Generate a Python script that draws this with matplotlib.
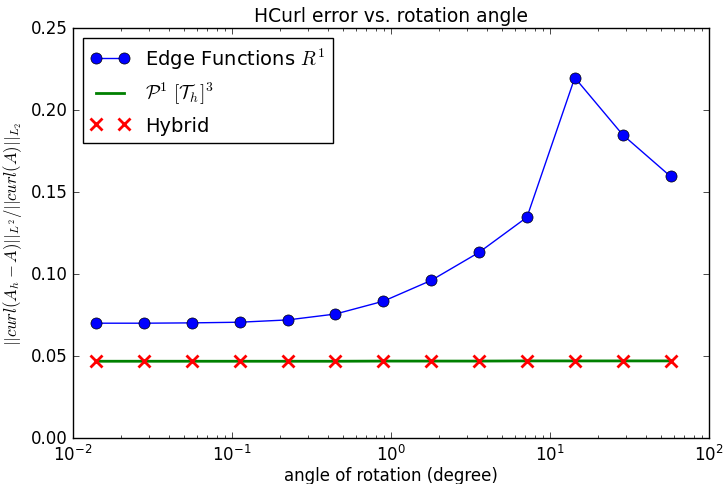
import numpy as np
import matplotlib
matplotlib.use("Agg")
import matplotlib.pyplot as plt

plt.style.use('classic')

angles_deg = [0.01399, 0.02797, 0.05595, 0.1119, 0.2238, 0.4476, 0.8952,
              1.790, 3.581, 7.162, 14.32, 28.65, 57.30]
edge_err = [0.0700, 0.0700, 0.0702, 0.0706, 0.0720, 0.0756, 0.0834,
            0.0961, 0.1132, 0.1346, 0.2197, 0.1849, 0.1595]
p1_err = [0.0468, 0.0468, 0.0468, 0.0468, 0.0468, 0.0468, 0.0469,
          0.0469, 0.0469, 0.0470, 0.0470, 0.0470, 0.0470]
hybrid_err = [0.0468, 0.0468, 0.0468, 0.0468, 0.0468, 0.0468, 0.0469,
              0.0470, 0.0470, 0.0470, 0.0470, 0.0470, 0.0470]

fig = plt.figure(figsize=(7.24, 4.85), dpi=100, facecolor='white')
ax = fig.add_axes([73/724, 1-439/485, (709-73)/724, (439-29)/485])

ax.plot(angles_deg, edge_err, 'b-o', markersize=8, label=r'Edge Functions $R^1$')
ax.plot(angles_deg, p1_err, 'g-', linewidth=2, label=r'$\mathcal{P}^1\ [\mathcal{T}_h]^3$')
ax.plot(angles_deg, hybrid_err, 'rx', markersize=8, markeredgewidth=2, label='Hybrid')

ax.set_xscale('log')
ax.set_xlim(1e-2, 1e2)
ax.set_ylim(0, 0.25)
ax.set_yticks([0.0, 0.05, 0.10, 0.15, 0.20, 0.25])
ax.set_yticklabels(['0.00', '0.05', '0.10', '0.15', '0.20', '0.25'])
ax.tick_params(labelsize=12)
ax.set_title('HCurl error vs. rotation angle', fontsize=13.5)
ax.set_xlabel('angle of rotation (degree)', fontsize=12, labelpad=2)
ax.set_ylabel(r'$||curl(A_h-A)||_{L^2}/||curl(A)||_{L_2}$', fontsize=12)
ax.legend(loc='upper left', fontsize=14, numpoints=2)

fig.savefig('out.png', dpi=100, facecolor='white')
